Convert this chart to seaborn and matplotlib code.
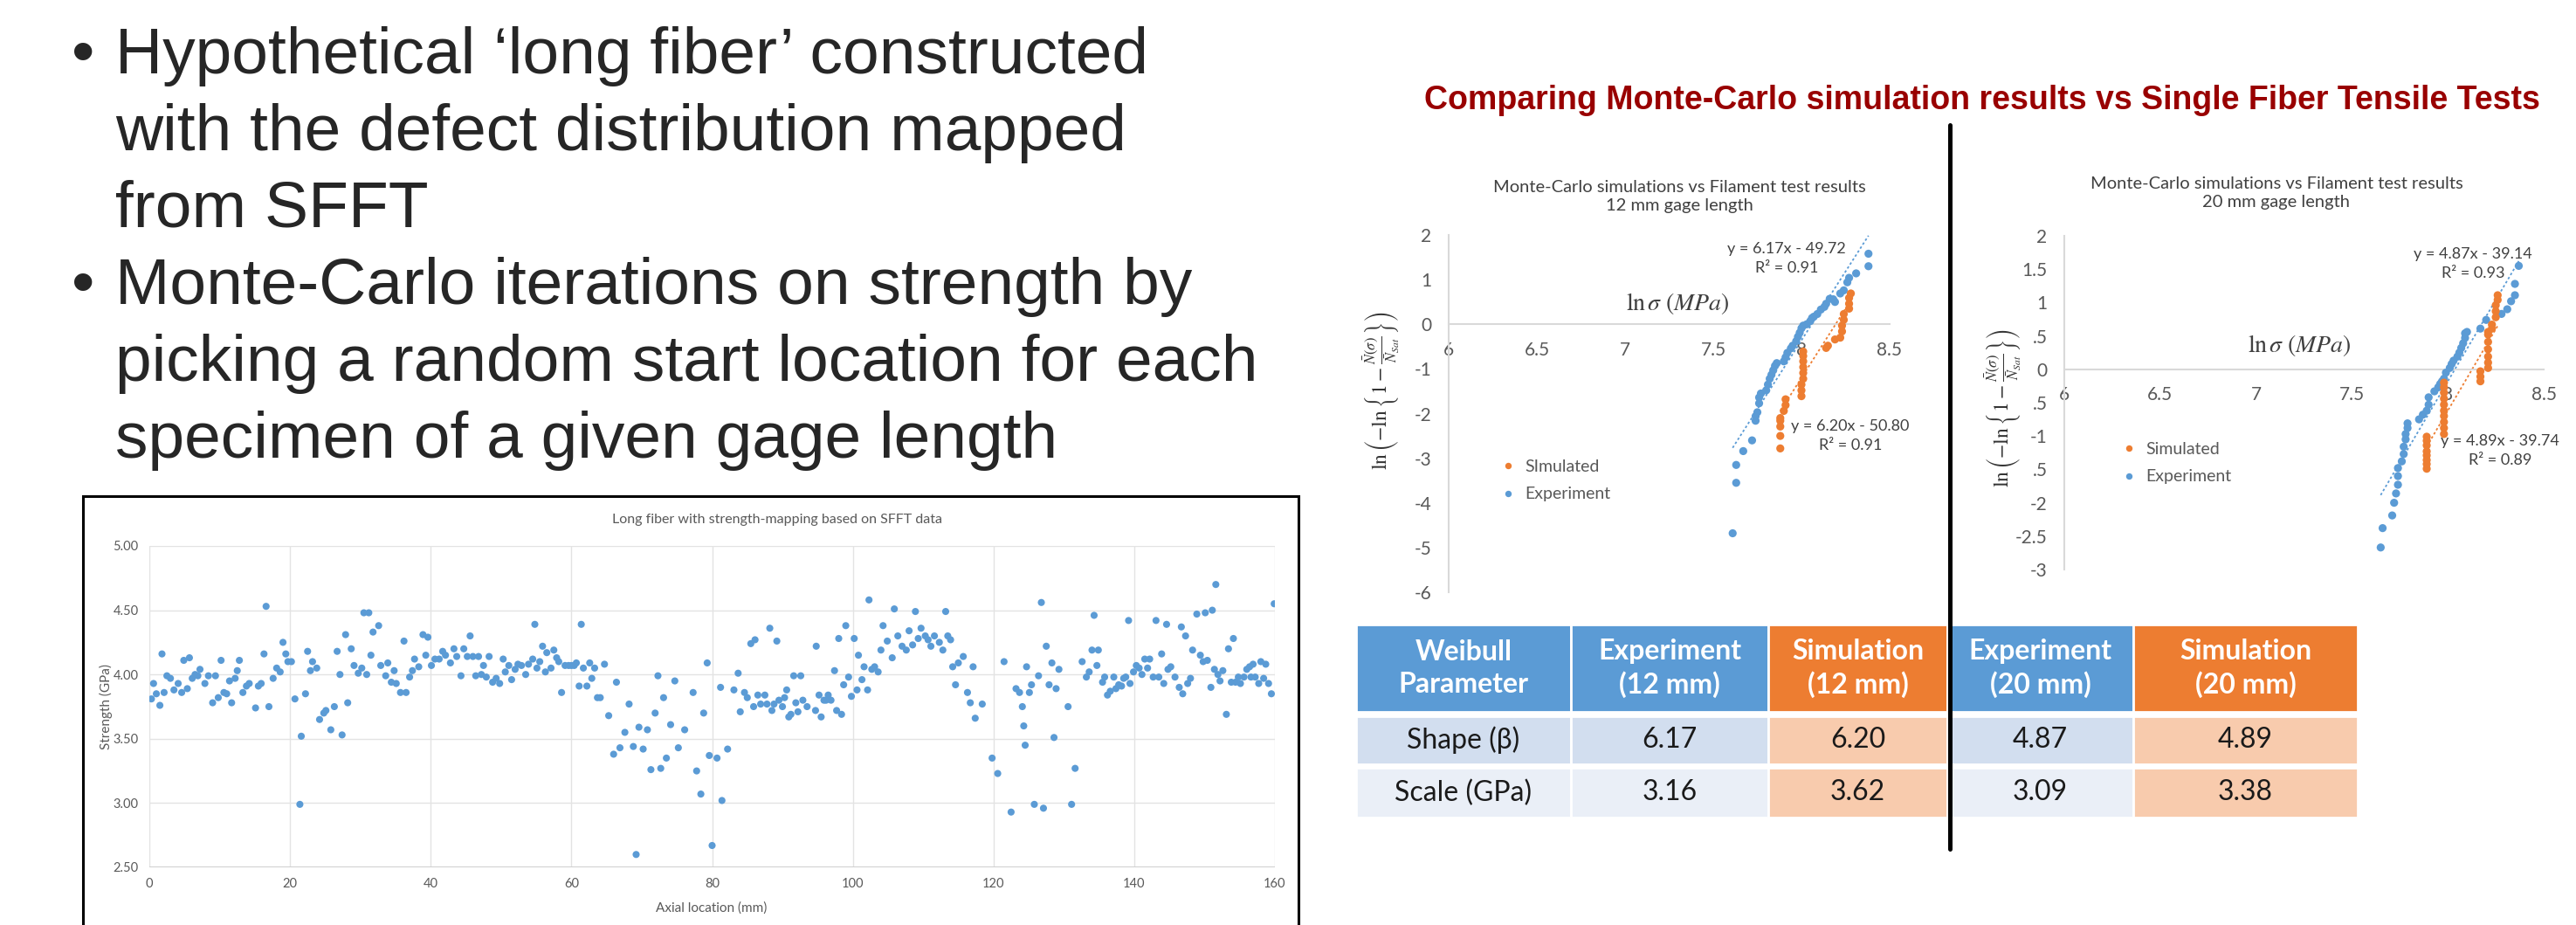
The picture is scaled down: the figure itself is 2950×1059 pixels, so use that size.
import numpy as np
import pandas as pd
import matplotlib
matplotlib.use("Agg")
import matplotlib.pyplot as plt
from matplotlib.patches import Rectangle
from matplotlib.lines import Line2D
import seaborn as sns

# ---------------- data ----------------
# long fiber strength map
axial_mm = [0.3, 0.6, 1.0, 1.5, 1.8, 2.1, 2.5, 3.0, 3.5, 4.1, 4.6, 4.9, 5.4, 5.7, 6.1, 6.5, 6.9, 7.2,
            7.9, 8.4, 9.0, 9.4, 9.8, 10.2, 10.6, 11.0, 11.4, 11.7, 12.2, 12.5, 12.8, 13.3, 13.8, 14.2,
            15.1, 15.5, 15.9, 16.3, 16.6, 17.0, 17.6, 18.1, 18.6, 19.0, 19.4, 19.7, 20.2, 20.7, 21.4,
            21.6, 22.2, 22.5, 22.9, 23.2, 23.8, 24.2, 24.8, 25.1, 25.8, 26.3, 26.7, 27.1, 27.4, 27.9,
            28.2, 28.7, 29.1, 29.7, 30.2, 30.5, 30.9, 31.2, 31.5, 31.8, 32.6, 32.9, 33.6, 33.9, 34.4,
            34.8, 35.1, 35.7, 36.2, 36.5, 37.0, 37.4, 37.7, 38.3, 38.9, 39.3, 39.6, 40.1, 40.6, 41.2,
            41.7, 42.1, 42.8, 43.3, 43.7, 44.3, 44.7, 45.2, 45.6, 46.0, 46.4, 46.8, 47.2, 47.5, 47.9,
            48.3, 48.8, 49.3, 49.8, 50.3, 50.6, 51.1, 51.5, 52.0, 52.4, 52.9, 53.5, 53.9, 54.5, 54.8,
            55.1, 55.5, 55.9, 56.3, 56.5, 57.1, 57.5, 57.9, 58.2, 58.6, 59.1, 59.6, 60.0, 60.4, 60.7,
            61.1, 61.4, 61.7, 62.2, 62.6, 62.9, 63.3, 63.7, 64.1, 64.7, 65.3, 66.0, 66.4, 66.9, 67.6,
            68.2, 68.8, 69.2, 69.6, 70.2, 70.8, 71.3, 71.9, 72.3, 72.7, 73.1, 73.5, 74.1, 74.7, 75.2,
            76.1, 77.3, 77.8, 78.4, 78.8, 79.3, 79.6, 80.0, 80.7, 81.2, 81.4, 82.2, 83.1, 83.7, 84.0,
            84.6, 85.0, 85.5, 85.9, 86.1, 86.5, 86.9, 87.5, 87.8, 88.2, 88.5, 88.8, 89.2, 89.5, 90.0,
            90.3, 90.6, 90.9, 91.2, 91.6, 91.9, 92.2, 92.6, 92.9, 93.5, 94.7, 94.8, 95.2, 95.5, 95.9,
            96.2, 96.5, 96.9, 97.4, 97.7, 98.0, 98.4, 98.7, 99.0, 99.4, 99.8, 100.2, 100.6, 100.8,
            101.3, 101.6, 102.1, 102.3, 102.7, 103.1, 103.6, 104.0, 104.3, 104.9, 105.6, 105.9,
            106.4, 107.0, 107.6, 108.0, 108.5, 108.9, 109.3, 109.7, 110.3, 110.7, 111.1, 111.6,
            112.3, 112.8, 113.2, 113.5, 113.9, 114.2, 114.6, 115.0, 115.7, 116.3, 116.7, 117.1,
            117.4, 118.4, 119.8, 120.6, 121.5, 122.5, 123.2, 123.7, 124.1, 124.3, 124.5, 124.7,
            125.1, 125.4, 125.8, 126.4, 126.8, 127.1, 127.5, 127.9, 128.3, 128.6, 128.9, 129.3,
            130.6, 131.1, 131.6, 132.6, 133.2, 133.6, 134.0, 134.3, 134.7, 134.9, 135.5, 135.8,
            136.2, 136.6, 137.1, 137.4, 137.8, 138.2, 138.5, 138.8, 139.2, 139.4, 139.9, 140.3,
            140.7, 141.1, 141.5, 141.9, 142.2, 142.7, 143.1, 143.5, 143.9, 144.2, 144.6, 144.8,
            145.2, 145.8, 146.4, 146.7, 146.9, 147.3, 147.6, 148.0, 148.3, 148.9, 149.4, 149.8,
            150.1, 150.4, 150.9, 151.1, 151.4, 151.6, 151.9, 152.2, 152.6, 153.1, 153.4, 153.8,
            154.1, 154.4, 154.8, 155.1, 155.6, 156.0, 156.4, 156.6, 156.9, 157.2, 157.7, 158.0,
            158.4, 158.7, 159.1, 159.5, 159.9]
strength_gpa = [3.81, 3.93, 3.85, 3.76, 4.16, 3.86, 3.99, 3.97, 3.88, 3.93, 3.86, 4.11, 3.89, 4.13, 3.97,
                4.00, 3.99, 4.04, 3.93, 3.99, 3.78, 3.99, 3.82, 4.11, 3.86, 3.85, 3.95, 3.78, 3.97, 4.03,
                4.11, 3.86, 3.91, 3.93, 3.74, 3.91, 3.93, 4.16, 4.53, 3.75, 3.97, 4.05, 4.02, 4.25, 4.16,
                4.10, 4.10, 3.81, 2.99, 3.52, 3.85, 4.18, 4.03, 4.10, 4.05, 3.65, 3.70, 3.72, 3.57, 3.75,
                4.18, 4.00, 3.53, 4.31, 3.78, 4.20, 4.07, 4.01, 4.05, 4.48, 4.00, 4.48, 4.15, 4.33, 4.38,
                4.07, 3.99, 4.09, 3.94, 4.03, 3.93, 3.86, 4.26, 3.86, 3.98, 4.03, 4.12, 4.06, 4.31, 4.15,
                4.29, 4.07, 4.12, 4.12, 4.18, 4.15, 4.09, 4.20, 4.14, 3.99, 4.20, 4.14, 4.30, 4.14, 3.99,
                4.14, 4.00, 4.07, 3.98, 4.14, 3.94, 3.97, 3.93, 4.12, 4.02, 4.07, 3.96, 4.04, 4.08, 4.07,
                4.00, 4.08, 4.12, 4.39, 4.05, 4.10, 4.22, 4.02, 4.17, 4.05, 4.19, 4.13, 4.10, 3.86, 4.07,
                4.07, 4.07, 4.07, 4.09, 3.91, 4.39, 4.05, 3.91, 4.09, 3.97, 4.05, 3.82, 3.82, 4.08, 3.68,
                3.38, 3.94, 3.43, 3.55, 3.77, 3.44, 2.60, 3.59, 3.42, 3.57, 3.26, 3.70, 3.99, 3.27, 3.82,
                3.35, 3.61, 3.95, 3.43, 3.57, 3.86, 3.25, 3.07, 3.70, 4.09, 3.37, 2.67, 3.35, 3.90, 3.02,
                3.42, 3.88, 4.01, 3.71, 3.86, 3.82, 4.24, 3.75, 4.27, 3.84, 3.77, 3.84, 3.77, 4.36, 3.72,
                3.77, 4.26, 3.80, 3.75, 3.82, 3.88, 3.67, 3.69, 3.99, 3.78, 3.71, 3.99, 3.80, 3.75, 3.72,
                4.22, 3.84, 3.67, 3.80, 3.80, 3.84, 3.80, 4.03, 3.72, 4.28, 3.69, 3.92, 4.38, 3.98, 3.83,
                4.28, 3.88, 4.15, 3.96, 4.06, 3.88, 4.58, 4.04, 4.06, 4.02, 4.19, 4.38, 4.26, 4.13, 4.51,
                4.30, 4.22, 4.19, 4.34, 4.23, 4.49, 4.28, 4.36, 4.30, 4.27, 4.22, 4.30, 4.25, 4.19, 4.49,
                4.30, 4.27, 4.06, 3.92, 4.09, 4.14, 3.86, 3.78, 4.06, 3.66, 3.77, 3.35, 3.23, 4.10, 2.93,
                3.89, 3.86, 3.75, 3.60, 3.45, 4.06, 3.86, 3.92, 2.99, 3.99, 4.56, 2.96, 4.22, 3.92, 4.09,
                3.51, 3.89, 4.04, 3.75, 2.99, 3.27, 4.10, 3.98, 4.02, 4.19, 4.46, 4.07, 4.19, 3.94, 3.98,
                3.84, 3.87, 3.98, 3.89, 3.92, 3.91, 3.97, 3.98, 4.42, 3.93, 4.02, 4.07, 4.05, 4.00, 4.12,
                4.05, 4.12, 3.98, 4.42, 3.98, 4.16, 3.93, 4.39, 4.04, 4.06, 3.98, 3.90, 4.37, 3.85, 4.30,
                3.93, 3.97, 4.19, 4.47, 4.15, 4.10, 4.48, 4.11, 3.90, 4.50, 4.04, 4.70, 4.00, 3.95, 4.03,
                3.69, 4.20, 3.94, 4.28, 3.94, 3.98, 3.93, 3.98, 4.04, 4.06, 3.98, 4.08, 3.98, 3.93, 4.10,
                3.97, 4.08, 3.93, 3.85, 4.55]

# Weibull plots, 12 mm gage length: x = ln(sigma / MPa), y = ln(-ln(1 - F))
exp12_x = [7.61, 7.63, 7.63, 7.67, 7.72, 7.74, 7.74, 7.75, 7.76, 7.76, 7.77, 7.80, 7.81, 7.82, 7.83,
           7.84, 7.85, 7.86, 7.90, 7.91, 7.92, 7.94, 7.95, 7.97, 7.98, 7.99, 8.00, 8.01, 8.03, 8.05,
           8.06, 8.07, 8.09, 8.11, 8.13, 8.14, 8.16, 8.18, 8.19, 8.22, 8.24, 8.26, 8.27, 8.31, 8.38, 8.38]
exp12_y = [-4.68, -3.55, -3.15, -2.84, -2.60, -2.16, -2.06, -1.97, -1.77, -1.64, -1.55, -1.48, -1.35,
           -1.22, -1.13, -1.03, -0.93, -0.87, -0.83, -0.74, -0.64, -0.54, -0.48, -0.38, -0.28, -0.19,
           -0.09, -0.03, 0.00, 0.07, 0.14, 0.17, 0.23, 0.33, 0.39, 0.46, 0.57, 0.56, 0.50, 0.69, 0.76,
           0.94, 1.04, 1.14, 1.30, 1.58]
sim12_x = [7.88, 7.88, 7.88, 7.88, 7.88, 7.90, 7.91, 7.91, 8.00, 8.00, 8.00, 8.01, 8.01, 8.01, 8.01,
           8.01, 8.01, 8.14, 8.15, 8.19, 8.22, 8.23, 8.23, 8.24, 8.24, 8.27, 8.27, 8.27, 8.28]
sim12_y = [-2.78, -2.50, -2.29, -2.16, -2.10, -1.94, -1.81, -1.68, -1.61, -1.48, -1.35, -1.22, -1.09,
           -0.96, -0.83, -0.71, -0.61, -0.53, -0.48, -0.34, -0.30, -0.16, -0.03, 0.10, 0.23, 0.35,
           0.46, 0.59, 0.69]

# Weibull plots, 20 mm gage length
exp20_x = [7.65, 7.66, 7.71, 7.72, 7.73, 7.74, 7.74, 7.74, 7.76, 7.77, 7.77, 7.78, 7.78, 7.79, 7.79,
           7.85, 7.87, 7.89, 7.90, 7.90, 7.93, 7.95, 7.96, 7.97, 7.98, 7.99, 8.01, 8.02, 8.03, 8.05,
           8.06, 8.07, 8.08, 8.09, 8.09, 8.10, 8.17, 8.20, 8.28, 8.31, 8.33, 8.35, 8.35, 8.37]
exp20_y = [-2.67, -2.38, -2.19, -2.00, -1.86, -1.73, -1.60, -1.48, -1.38, -1.27, -1.16, -1.05, -0.97,
           -0.88, -0.81, -0.75, -0.68, -0.62, -0.53, -0.42, -0.33, -0.27, -0.22, -0.18, -0.14, -0.05,
           0.02, 0.08, 0.13, 0.19, 0.25, 0.32, 0.39, 0.47, 0.54, 0.56, 0.61, 0.74, 0.83, 0.90, 1.02,
           1.11, 1.28, 1.55]
sim20_x = [7.89, 7.89, 7.89, 7.89, 7.89, 7.89, 7.89, 7.89, 7.98, 7.98, 7.98, 7.98, 7.98, 7.98, 7.98,
           7.98, 7.98, 7.98, 8.17, 8.17, 8.17, 8.21, 8.21, 8.21, 8.21, 8.21, 8.21, 8.21, 8.23, 8.23,
           8.25, 8.25, 8.25, 8.26, 8.26]
sim20_y = [-1.01, -1.07, -1.14, -1.23, -1.29, -1.36, -1.42, -1.49, -0.97, -0.88, -0.79, -0.70, -0.62,
           -0.53, -0.44, -0.35, -0.27, -0.20, -0.18, -0.11, -0.03, 0.02, 0.10, 0.19, 0.30, 0.41, 0.52,
           0.56, 0.61, 0.67, 0.78, 0.87, 0.96, 1.04, 1.11]

# linear fits shown on the charts: (slope, intercept, R^2) for experiment, simulated
fit12 = [(6.17, -49.72, 0.91), (6.20, -50.80, 0.91)]
fit20 = [(4.87, -39.14, 0.93), (4.89, -39.74, 0.89)]

# table
table_header = ['Weibull\nParameter', 'Experiment\n(12 mm)', 'Simulation\n(12 mm)',
                'Experiment\n(20 mm)', 'Simulation\n(20 mm)']
param_names = ['Shape (β)', 'Scale (GPa)']
exp_12 = [6.17, 3.16]
sim_12 = [6.20, 3.62]
exp_20 = [4.87, 3.09]
sim_20 = [4.89, 3.38]

bullet_lines = [('•', 'Hypothetical ‘long fiber’ constructed'),
                ('', 'with the defect distribution mapped'),
                ('', 'from SFFT'),
                ('•', 'Monte-Carlo iterations on strength by'),
                ('', 'picking a random start location for each'),
                ('', 'specimen of a given gage length')]

# ---------------- style ----------------
sns.set_theme(style='white')
plt.rcParams['font.family'] = ['Lato', 'DejaVu Sans']
plt.rcParams['mathtext.fontset'] = 'stix'

BLUE = '#5B9BD5'
ORANGE = '#ED7D31'
GREY = '#595959'
W, H = 2950, 1059


def fx(px):
    return px / W


def fy(py):
    return 1 - py / H


fig = plt.figure(figsize=(W / 100, H / 100), dpi=100)
fig.patch.set_facecolor('white')

# bullet text
for i, (b, line) in enumerate(bullet_lines):
    base = 84 + i * 88
    if b:
        fig.text(fx(82), fy(base), b, fontsize=54, family='Liberation Sans', va='baseline', ha='left')
    fig.text(fx(132), fy(base), line, fontsize=54, family='Liberation Sans', va='baseline', ha='left')

# ---------------- long fiber chart ----------------
fig.add_artist(Rectangle((fx(95), fy(1070)), (1487 - 95) / W, (1070 - 568) / H,
                         transform=fig.transFigure, fill=False, edgecolor='black', lw=2.2))
axf = fig.add_axes([fx(171), fy(993), (1460 - 171) / W, (993 - 625) / H])
sns.scatterplot(x=axial_mm, y=strength_gpa, ax=axf, color=BLUE, s=34, edgecolor='none', zorder=3)
axf.set_xlim(0, 160)
axf.set_ylim(2.5, 5.0)
axf.set_xticks(np.arange(0, 161, 20))
axf.set_yticks(np.arange(2.5, 5.01, 0.5))
axf.set_yticklabels([f'{v:.2f}' for v in np.arange(2.5, 5.01, 0.5)])
axf.grid(True, color='#E3E3E3', lw=1)
for s in axf.spines.values():
    s.set_visible(False)
axf.axhline(2.5, color='#D0D0D0', lw=1.5, zorder=2)
axf.tick_params(length=0, labelsize=10.5, labelcolor=GREY, pad=9)
fig.text(fx(890), fy(595), 'Long fiber with strength-mapping based on SFFT data',
         fontsize=11.5, color=GREY, ha='center', va='center')
fig.text(fx(121), fy(809), 'Strength (GPa)', fontsize=11, color=GREY, rotation=90,
         ha='center', va='center')
fig.text(fx(815), fy(1040), 'Axial location (mm)', fontsize=11, color=GREY, ha='center', va='center')

# ---------------- red heading ----------------
fig.text(fx(2270), fy(115), 'Comparing Monte-Carlo simulation results vs Single Fiber Tensile Tests',
         fontsize=27, family='Liberation Sans', weight='bold', color='#990000', ha='center', va='center')

ylab = r'$\ln\left(-\ln\left\{1-\frac{\bar{N}(\sigma)}{\bar{N}_{Sat}}\right\}\right)$'


def weibull_panel(rect, ex, ey, sx, sy, fits, sim_name, yticks, yticklabels, ylim, title_xy,
                  lnsig_xy, ylab_xy, leg_xy, eq_xy):
    ax = fig.add_axes(rect)
    df = pd.concat([pd.DataFrame({'x': ex, 'y': ey, 'series': 'Experiment'}),
                    pd.DataFrame({'x': sx, 'y': sy, 'series': sim_name})])
    sns.scatterplot(data=df, x='x', y='y', hue='series', hue_order=[sim_name, 'Experiment'],
                    palette={sim_name: ORANGE, 'Experiment': BLUE}, s=44, edgecolor='none', ax=ax,
                    zorder=3)
    for (m, b, r2), xs, col in zip(fits, [ex, sx], [BLUE, ORANGE]):
        xx = np.array([min(xs), max(xs)])
        ax.plot(xx, m * xx + b, ls=(0, (1.5, 1.5)), color=col, lw=1.3, zorder=2)
    ax.set_xlim(6, 8.5)
    ax.set_ylim(*ylim)
    ax.set_xticks([6, 6.5, 7, 7.5, 8, 8.5])
    ax.set_xticklabels(['6', '6.5', '7', '7.5', '8', '8.5'])
    ax.set_yticks(yticks)
    ax.set_yticklabels(yticklabels)
    ax.set_xlabel('')
    ax.set_ylabel('')
    ax.spines['top'].set_visible(False)
    ax.spines['right'].set_visible(False)
    ax.spines['bottom'].set_position(('data', 0))
    for k in ['left', 'bottom']:
        ax.spines[k].set_color('#D9D9D9')
        ax.spines[k].set_linewidth(1.5)
    ax.tick_params(length=0, labelsize=15, labelcolor=GREY)
    ax.tick_params(axis='x', pad=14)
    ax.tick_params(axis='y', pad=14)
    ax.patch.set_alpha(0)
    sns.move_legend(ax, loc='upper left', bbox_to_anchor=(fx(leg_xy[0]), fy(leg_xy[1])),
                    bbox_transform=fig.transFigure, frameon=False, title=None, fontsize=14,
                    handletextpad=0.0, labelspacing=0.75, markerscale=0.8, borderaxespad=0)
    for t in ax.get_legend().get_texts():
        t.set_color(GREY)
    fig.text(fx(title_xy[0]), fy(title_xy[1]),
             'Monte-Carlo simulations vs Filament test results\n' + title_xy[2],
             fontsize=14.5, color='#404040', ha='center', va='center', linespacing=1.35)
    fig.text(fx(lnsig_xy[0]), fy(lnsig_xy[1]), r'$\ln\sigma\ (MPa)$', fontsize=20, color='#404040',
             ha='center', va='center')
    fig.text(fx(ylab_xy[0]), fy(ylab_xy[1]), ylab, fontsize=17, color='#333333', rotation=90,
             ha='center', va='center')
    for (m, b, r2), (cx, cy) in zip(fits, eq_xy):
        fig.text(fx(cx), fy(cy), f'y = {m:.2f}x - {abs(b):.2f}\nR² = {r2:.2f}', fontsize=13,
                 color='#404040', ha='center', va='center', linespacing=1.45)
    return ax


weibull_panel([fx(1659), fy(678), 505 / W, 409 / H], exp12_x, exp12_y, sim12_x, sim12_y, fit12,
              'SImulated', list(range(-6, 3)), [str(v) for v in range(-6, 3)], (-6, 2),
              (1923, 225, '12 mm gage length'), (1921, 347), (1582, 447), (1700, 518),
              [(2046, 296), (2119, 499)])

yt20 = [-3, -2.5, -2, -1.5, -1, -0.5, 0, 0.5, 1, 1.5, 2]
ytl20 = ['-3', '-2.5', '-2', '.5', '-1', '.5', '0', '.5', '1', '1.5', '2']
weibull_panel([fx(2364), fy(652), 549 / W, 382 / H], exp20_x, exp20_y, sim20_x, sim20_y, fit20,
              'Simulated', yt20, ytl20, (-3, 2),
              (2607, 221, '20 mm gage length'), (2633, 395), (2294, 467), (2411, 498),
              [(2832, 302), (2863, 516)])

# ---------------- table ----------------
col_edges = [1553, 1799, 2025, 2230, 2443, 2700]
row_edges = [(715, 815), (820, 875), (879, 936)]
head_cols = [BLUE, BLUE, ORANGE, BLUE, ORANGE]
body_cols = [['#D2DEEF', '#D2DEEF', '#F8CBAD', '#D2DEEF', '#F8CBAD'],
             ['#EAEFF7', '#EAEFF7', '#F8CBAD', '#EAEFF7', '#F8CBAD']]
body = [[param_names[r], f'{exp_12[r]:.2f}', f'{sim_12[r]:.2f}', f'{exp_20[r]:.2f}', f'{sim_20[r]:.2f}']
        for r in range(2)]
for ri, (top, bot) in enumerate(row_edges):
    for ci in range(5):
        x0, x1 = col_edges[ci], col_edges[ci + 1]
        fc = head_cols[ci] if ri == 0 else body_cols[ri - 1][ci]
        fig.add_artist(Rectangle((fx(x0), fy(bot)), (x1 - x0) / W, (bot - top) / H,
                                 transform=fig.transFigure, facecolor=fc, edgecolor='white', lw=2))
        cx, cy = (x0 + x1) / 2, (top + bot) / 2
        if ri == 0:
            fig.text(fx(cx), fy(cy), table_header[ci], fontsize=23, weight='bold', color='white',
                     ha='center', va='center', linespacing=1.3)
        else:
            fig.text(fx(cx), fy(cy), body[ri - 1][ci], fontsize=23, color='#1A1A1A',
                     ha='center', va='center')

# separator line
fig.add_artist(Line2D([fx(2233), fx(2233)], [fy(143), fy(972)], transform=fig.transFigure,
                      color='black', lw=3.6, zorder=10))

fig.savefig('out.png', dpi=100, facecolor='white')
